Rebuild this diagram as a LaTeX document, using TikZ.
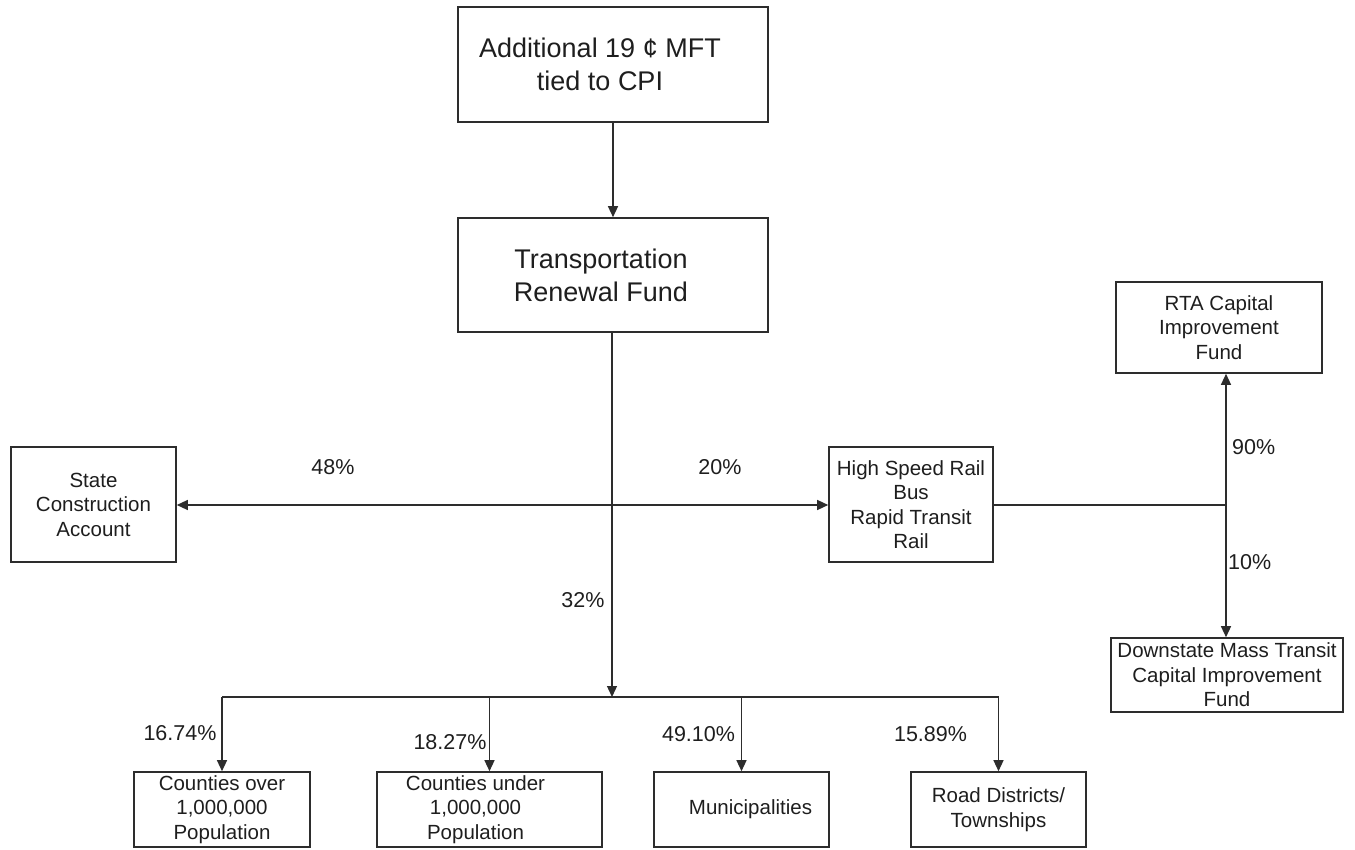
\documentclass[tikz,border=0pt]{standalone}
\usepackage{fontspec}
\setmainfont{Liberation Sans}
\usetikzlibrary{arrows.meta}
\definecolor{ln}{RGB}{45,45,45}
\definecolor{tx}{RGB}{30,30,30}
\newcommand{\padr}[1]{\rule{#1}{0pt}}
\begin{document}
\begin{tikzpicture}[x=1pt,y=-1pt,
  box/.style={draw=ln,line width=1.6pt,rectangle,inner sep=0pt,align=center,text=tx,font=\fontsize{20.5}{24.5}\selectfont},
  bigbox/.style={box,font=\fontsize{27}{33}\selectfont},
  lbl/.style={text=tx,font=\fontsize{21.5}{26}\selectfont,inner sep=0pt},
  con/.style={draw=ln,line width=1.3pt},
  arr/.style={con,-{Triangle[length=11pt,width=10pt]}}]
\useasboundingbox (0,0) rectangle (1355,850);

% boxes
\node[bigbox,minimum width=310pt,minimum height=115pt] (top) at (613,64.5) {Additional 19 ¢ MFT\padr{26pt}\\tied to CPI\padr{26pt}};
\node[bigbox,minimum width=310pt,minimum height=114pt] (trf) at (613,275) {Transportation\padr{24pt}\\Renewal Fund\padr{24pt}};
\node[box,minimum width=165pt,minimum height=115pt] (state) at (93.5,504.5) {State\\Construction\\Account};
\node[box,minimum width=164pt,minimum height=115pt] (hsr) at (911,504.5) {High Speed Rail\\Bus\\Rapid Transit\\Rail};
\node[box,minimum width=206pt,minimum height=91pt] (rta) at (1219,327.5) {RTA Capital\\Improvement\\Fund};
\node[box,minimum width=232pt,minimum height=74pt] (down) at (1227,675) {Downstate Mass Transit\\Capital Improvement\\Fund};
\node[box,minimum width=176pt,minimum height=75pt] (cover) at (222,809.5) {Counties over\\1,000,000\\Population};
\node[box,minimum width=225pt,minimum height=75pt] (cunder) at (489.5,809.5) {Counties under\padr{28pt}\\1,000,000\padr{28pt}\\Population\padr{28pt}};
\node[box,minimum width=175pt,minimum height=75pt] (muni) at (741.5,809.5) {\padr{18pt}Municipalities};
\node[box,minimum width=175pt,minimum height=75pt] (road) at (998.5,809.5) {Road Districts/\\Townships};

% junctions
\coordinate (j) at (612,505);
\coordinate (b) at (612,697);
\coordinate (rj) at (1226,505);

% connectors
\draw[arr] (top) -- (trf);
\draw[con] (trf.south -| j) -- (j);
\draw[arr] (j) -- (state.east |- j);
\draw[arr] (j) -- (hsr.west |- j);
\draw[arr] (j) -- (b);
\draw[con] (cover.north |- b) -- (road.north |- b);
\foreach \n in {cover,cunder,muni,road} \draw[arr] (\n.north |- b) -- (\n.north);
\draw[con] (hsr.east |- rj) -- (rj);
\draw[arr] (rj) -- (rta.south -| rj);
\draw[arr] (rj) -- (down.north -| rj);

% labels
\node[lbl] (l48) at (333,467) {48\%};
\node[lbl] (l20) at (720,467) {20\%};
\node[lbl] (l32) at (583,600) {32\%};
\node[lbl,anchor=west] (l90) at (1232,447) {90\%};
\node[lbl,anchor=west] (l10) at (1228,562) {10\%};
\node[lbl] (l1674) at (180,733) {16.74\%};
\node[lbl] (l1827) at (450,742) {18.27\%};
\node[lbl] (l4910) at (698.5,734) {49.10\%};
\node[lbl] (l1589) at (930.5,734) {15.89\%};
\end{tikzpicture}
\end{document}
